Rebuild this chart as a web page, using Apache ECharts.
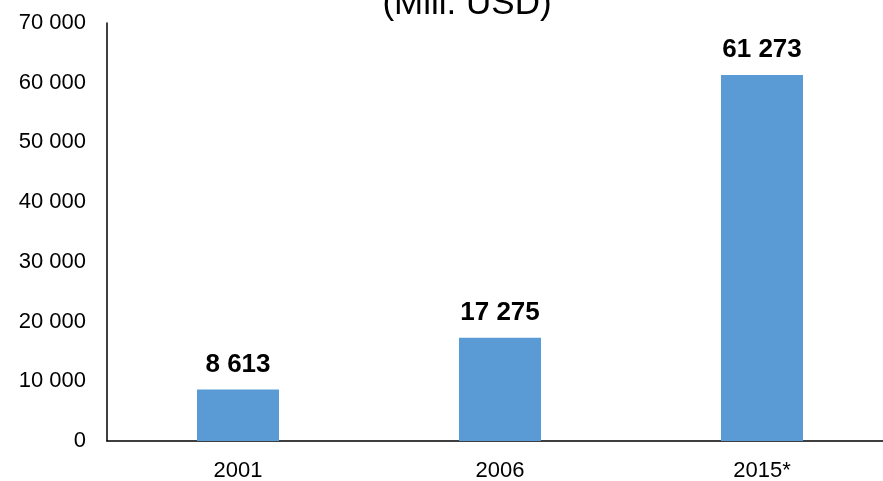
<!DOCTYPE html>
<html>
<head>
<meta charset="utf-8">
<script src="https://cdn.jsdelivr.net/npm/echarts@6/dist/echarts.min.js"></script>
<style>html,body{margin:0;padding:0;background:#fff}#c{width:883px;height:481px}</style>
</head>
<body>
<div id="c"></div>
<script>
const categories = ['2001', '2006', '2015*'];
const values = [8613, 17275, 61273];
const titleText = '(Mill. USD)';

function fmt(v) {
  return String(v).replace(/\B(?=(\d{3})+(?!\d))/g, ' ');
}

const chart = echarts.init(document.getElementById('c'));
chart.setOption({
  animation: false,
  backgroundColor: '#fff',
  title: {
    text: titleText,
    left: 462,
    textAlign: 'center',
    top: -18,
    textStyle: { fontFamily: 'Liberation Sans, Arial', fontSize: 35, fontWeight: 'normal', color: '#000' }
  },
  grid: { left: 107, top: 23, width: 786, height: 418, containLabel: false, outerBoundsMode: 'none' },
  xAxis: {
    type: 'category',
    data: categories,
    axisLine: { lineStyle: { color: '#000', width: 1.5 } },
    axisTick: { show: false },
    axisLabel: { color: '#000', fontFamily: 'Liberation Sans, Arial', fontSize: 22, margin: 19 }
  },
  yAxis: {
    type: 'value',
    min: 0,
    max: 70000,
    interval: 10000,
    axisLine: { show: true, lineStyle: { color: '#000', width: 1.5 } },
    axisTick: { show: false },
    splitLine: { show: false },
    axisLabel: { color: '#000', fontFamily: 'Liberation Sans, Arial', fontSize: 22, margin: 21, formatter: fmt }
  },
  series: [{
    type: 'bar',
    data: values,
    barWidth: '31.3%',
    itemStyle: { color: '#5B9BD5' },
    label: {
      show: true,
      position: 'top',
      distance: 12,
      color: '#000',
      fontFamily: 'Liberation Sans, Arial',
      fontSize: 26,
      fontWeight: 'bold',
      formatter: p => fmt(p.value)
    }
  }]
});
</script>
</body>
</html>
